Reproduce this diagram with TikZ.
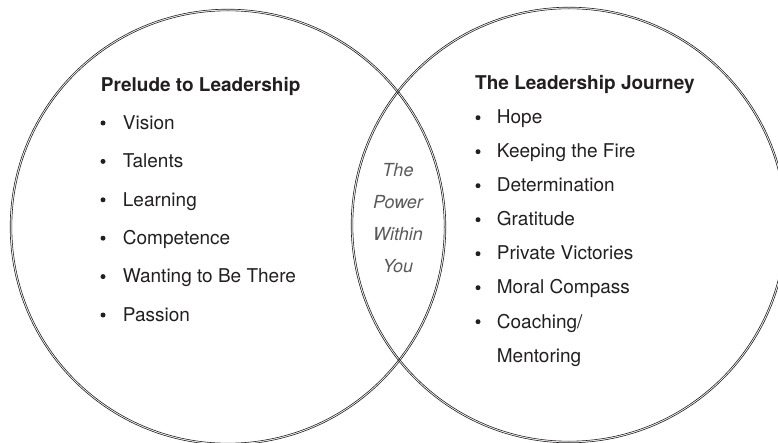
\documentclass[tikz,border=0pt]{standalone}
\usepackage{fontspec}
\setmainfont{TeX Gyre Heros}
\definecolor{ink}{HTML}{231F20}
\definecolor{midgray}{HTML}{5A5A5A}
\begin{document}
\begin{tikzpicture}[x=1pt,y=-1pt,
  ring/.style={draw=ink,line width=0.6pt},
  head/.style={anchor=base west,inner sep=0pt,font=\fontsize{19}{22}\selectfont\bfseries,text=ink},
  item/.style={anchor=base west,inner sep=0pt,font=\fontsize{19}{22}\selectfont,text=ink},
  dot/.style={circle,fill=ink,inner sep=0pt,minimum size=5pt},
  core/.style={anchor=base,inner sep=0pt,font=\fontsize{18}{22}\selectfont\itshape,text=midgray}]
\useasboundingbox (0,0) rectangle (778,443);
% circles (double outlines)
\coordinate (cl) at (228,227);
\coordinate (cr) at (569,225);
\draw[ring] (cl) circle[radius=216.2pt];
\draw[ring] (cl) circle[radius=217.8pt];
\draw[ring] (cr) circle[radius=216.2pt];
\draw[ring] (cr) circle[radius=217.8pt];
% left list
\node[head] (lt) at (100.7,91.7) {Prelude to Leadership};
\foreach \t [count=\i] in {Vision,Talents,Learning,Competence,Wanting to Be There,Passion}{
  \node[dot] (lb\i) at (103,{129.3+38.4*(\i-1)-6.3}) {};
  \node[item] (li\i) at (122.7,{129.3+38.4*(\i-1)}) {\t};
}
% right list
\node[head] (rt) at (475,90) {The Leadership Journey};
\foreach \t [count=\i] in {Hope,Keeping the Fire,Determination,Gratitude,Private Victories,Moral Compass,Coaching/}{
  \node[dot] (rb\i) at (478,{124+34*(\i-1)-6.3}) {};
  \node[item] (ri\i) at (496.7,{124+34*(\i-1)}) {\t};
}
\node[item] (ri8) at (496.7,362) {Mentoring};
% middle
\node[core] (m1) at (398,176.7) {The};
\node[core] (m2) at (398,208.7) {Power};
\node[core] (m3) at (398,240.7) {Within};
\node[core] (m4) at (398,272.7) {You};
\end{tikzpicture}
\end{document}
